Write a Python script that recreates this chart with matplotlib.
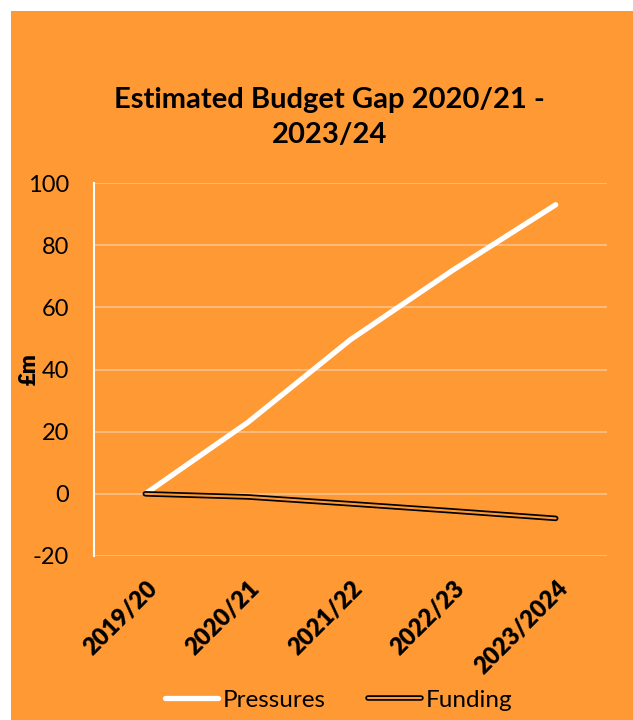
import matplotlib
matplotlib.use("Agg")
import matplotlib.pyplot as plt
import matplotlib.patches as patches
from matplotlib.lines import Line2D
from matplotlib.legend_handler import HandlerLine2D
import numpy as np

plt.rcParams['font.family'] = ['Lato', 'DejaVu Sans']
plt.rcParams['axes.unicode_minus'] = False

# budget gap figures, £m
years = ["2019/20", "2020/21", "2021/22", "2022/23", "2023/2024"]
pressures = [0, 23, 49.6, 72, 93]
funding = [0, -1, -3.2, -5.5, -7.9]

orange = "#FF9933"

fig = plt.figure(figsize=(6.33, 7.2), dpi=100, facecolor="white")
# orange chart area, leaving a thin white margin top and left
fig.patches.append(patches.Rectangle((11/633, 0), 1 - 11/633, 1 - 11/720,
                                     transform=fig.transFigure, facecolor=orange,
                                     edgecolor="none", zorder=-5))

ax = fig.add_axes([94/633, 1 - 556/720, (607 - 94)/633, (556 - 183)/720])
ax.set_facecolor(orange)
ax.set_zorder(2)

x = np.arange(len(years))
ax.plot(x, pressures, color="white", lw=3.8, solid_capstyle="round",
        solid_joinstyle="round", zorder=3)
# double line: black outline with orange core
ax.plot(x, funding, color="black", lw=4.0, solid_capstyle="round",
        solid_joinstyle="round", zorder=3)
ax.plot(x, funding, color=orange, lw=1.5, solid_capstyle="round",
        solid_joinstyle="round", zorder=4)

ax.set_xlim(-0.5, len(years) - 0.5)
ax.set_ylim(-20, 100)
ax.set_yticks(range(-20, 101, 20))
ax.set_xticks(x)
ax.set_xticklabels(years)
ax.tick_params(axis="y", length=0, pad=18, labelsize=17)
ax.tick_params(axis="x", length=0, pad=15)
plt.setp(ax.get_xticklabels(), rotation=45, ha="right", rotation_mode="anchor",
         fontsize=17, fontweight="heavy")

ax.grid(axis="y", color="#FBC08A", lw=1.2)
ax.set_axisbelow(True)
for s in ["top", "right", "bottom"]:
    ax.spines[s].set_visible(False)
ax.spines["left"].set_color("white")
ax.spines["left"].set_linewidth(1.5)

ax.set_ylabel("£m", fontsize=16, fontweight="heavy")
ax.yaxis.set_label_coords(-0.105, 0.5)

fig.text(0.52, 1 - 100/720, "Estimated Budget Gap 2020/21 -", ha="center",
         va="center", fontsize=21, fontweight="bold")
fig.text(0.52, 1 - 135/720, "2023/24", ha="center", va="center",
         fontsize=21, fontweight="bold")


class DoubleLine(HandlerLine2D):
    def create_artists(self, legend, orig, xd, yd, w, h, fs, trans):
        y = h / 2 - yd
        outer = Line2D([-xd, w - xd], [y, y], color="black", lw=4.0,
                       solid_capstyle="round", transform=trans)
        inner = Line2D([-xd, w - xd], [y, y], color=orange, lw=1.5,
                       solid_capstyle="round", transform=trans)
        return [outer, inner]


h1 = Line2D([], [], color="white", lw=3.8, solid_capstyle="round")
h2 = Line2D([], [], color="black")
fig.legend([h1, h2], ["Pressures", "Funding"], loc="center",
           bbox_to_anchor=(0.535, 1 - 700/720), ncol=2, frameon=False,
           fontsize=17.5, handlelength=2.2, handletextpad=0.2, columnspacing=1.7,
           handler_map={h2: DoubleLine()})

fig.savefig("out.png", dpi=100, facecolor="white")
